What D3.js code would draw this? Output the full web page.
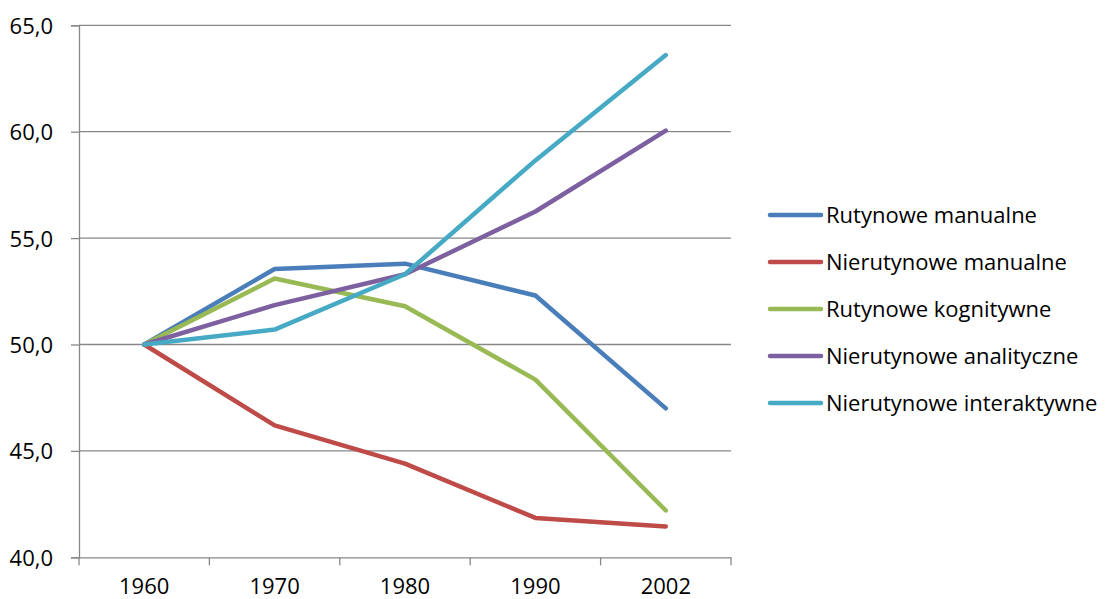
<!DOCTYPE html>
<html><head><meta charset="utf-8">
<script src="https://cdn.jsdelivr.net/npm/d3@7"></script>
<style>body{margin:0;background:#fff}svg{display:block}svg text{font-family:"Open Sans","Noto Sans",sans-serif;font-size:22px;fill:#000}</style>
</head><body>
<svg id="c" width="1111" height="599"></svg>
<script>
const years = ["1960","1970","1980","1990","2002"];
const seriesNames = ["Rutynowe manualne","Nierutynowe manualne","Rutynowe kognitywne","Nierutynowe analityczne","Nierutynowe interaktywne"];
const rutynoweManualne = [50.0, 53.55, 53.8, 52.3, 47.0];
const nierutynoweManualne = [50.0, 46.2, 44.4, 41.85, 41.45];
const rutynoweKognitywne = [50.0, 53.1, 51.8, 48.35, 42.2];
const nierutynoweAnalityczne = [50.0, 51.85, 53.3, 56.25, 60.05];
const nierutynoweInteraktywne = [50.0, 50.7, 53.3, 58.65, 63.6];
const yTicks = [40, 45, 50, 55, 60, 65];
const colors = ["#4A7EBB","#BE4B48","#98B954","#7D60A0","#46AAC5"];
const series = [rutynoweManualne, nierutynoweManualne, rutynoweKognitywne, nierutynoweAnalityczne, nierutynoweInteraktywne];

const svg = d3.select("#c");
const L = 79, R = 731, T = 25.3, B = 557.3;
const x = d3.scaleBand().domain(years).range([L, R]);
const y = d3.scaleLinear().domain([40, 65]).range([B, T]);
const fmt = v => d3.format(".1f")(v).replace(".", ",");

// gridlines
svg.append("g").selectAll("line").data(yTicks.slice(1)).join("line")
  .attr("x1", L).attr("x2", R).attr("y1", d => y(d)).attr("y2", d => y(d))
  .attr("stroke", "#878787").attr("stroke-width", 1.3);

// y axis
const ya = svg.append("g").attr("transform", `translate(${L},0)`)
  .call(d3.axisLeft(y).tickValues(yTicks).tickFormat(fmt).tickSize(8).tickPadding(18));
ya.attr("font-size", null).attr("font-family", null);
ya.select(".domain").attr("stroke", "#878787").attr("stroke-width", 1.3);
ya.selectAll(".tick line").attr("stroke", "#878787").attr("stroke-width", 1.3);
ya.selectAll("text").attr("fill", "#000").attr("dy", "0.36em");

// x axis
const xa = svg.append("g").attr("transform", `translate(0,${B})`)
  .call(d3.axisBottom(x).tickSize(0).tickPadding(22));
xa.attr("font-size", null).attr("font-family", null);
xa.select(".domain").attr("stroke", "#878787").attr("stroke-width", 1.3);
xa.selectAll("text").attr("fill", "#000").attr("dy", "0.68em");
const bounds = years.map(d => x(d)).concat([R]);
xa.selectAll(".bt").data(bounds).join("line").attr("class", "bt")
  .attr("x1", d => d).attr("x2", d => d).attr("y1", 0).attr("y2", 8)
  .attr("stroke", "#878787").attr("stroke-width", 1.3);

// lines
const line = d3.line().x((d, i) => x(years[i]) + x.bandwidth() / 2).y(d => y(d));
svg.append("g").selectAll("path").data(series).join("path")
  .attr("d", d => line(d)).attr("fill", "none")
  .attr("stroke", (d, i) => colors[i]).attr("stroke-width", 4.5)
  .attr("stroke-linejoin", "round").attr("stroke-linecap", "round");

// legend
const lg = svg.append("g").selectAll("g").data(seriesNames).join("g")
  .attr("transform", (d, i) => `translate(0,${215 + i * 47})`);
lg.append("line").attr("x1", 770).attr("x2", 821).attr("y1", 0).attr("y2", 0)
  .attr("stroke", (d, i) => colors[i]).attr("stroke-width", 4.5).attr("stroke-linecap", "round");
lg.append("text").attr("x", 826).attr("y", 0).attr("dy", "0.36em")
  .text(d => d);
</script>
</body></html>
